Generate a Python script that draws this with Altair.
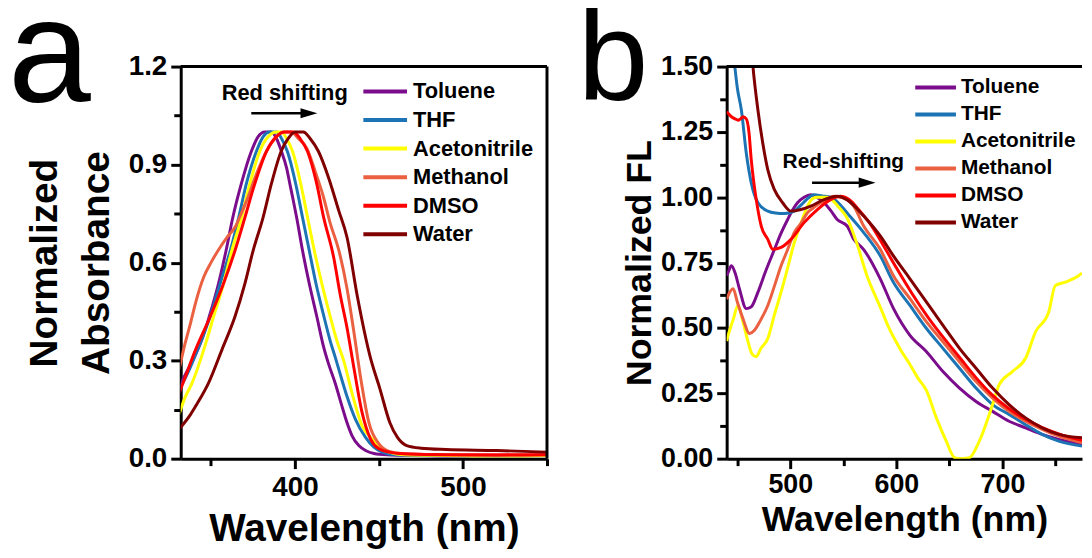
import altair as alt
import pandas as pd

FONT = "Liberation Sans"
SOLVENTS = ["Toluene", "THF", "Acetonitrile", "Methanol", "DMSO", "Water"]
COLORS = ["#7B0C8C", "#1C74B4", "#FFFF00", "#EA6040", "#FF0000", "#800000"]

# ---------------- panel a: absorbance ----------------
TOL_A_X = [331, 336, 340, 345, 349, 354.5, 359, 363, 368, 374, 378, 382, 386, 389, 392, 395, 397, 399, 401, 404.5, 408.5, 413, 417, 420, 424, 428, 431, 434, 438, 442, 447, 455, 470, 500, 530, 550]
TOL_A_Y = [0.22, 0.27, 0.31, 0.37, 0.435, 0.536, 0.637, 0.738, 0.84, 0.94, 0.985, 1.0, 1.0, 0.98, 0.94, 0.89, 0.84, 0.79, 0.738, 0.637, 0.536, 0.435, 0.343, 0.29, 0.23, 0.16, 0.11, 0.07, 0.04, 0.025, 0.016, 0.012, 0.01, 0.008, 0.008, 0.012]
THF_A_X = [331, 336, 342, 349.5, 355.5, 361.5, 366.5, 371, 377, 381, 385, 389, 392, 395.5, 400.5, 404.5, 408.5, 412.5, 417, 421, 424, 428, 431, 436, 442, 447, 452, 460, 480, 520, 550]
THF_A_Y = [0.21, 0.26, 0.333, 0.435, 0.536, 0.637, 0.738, 0.84, 0.94, 0.985, 1.0, 1.0, 0.98, 0.94, 0.84, 0.738, 0.637, 0.536, 0.44, 0.36, 0.31, 0.24, 0.19, 0.12, 0.065, 0.035, 0.02, 0.012, 0.01, 0.008, 0.01]
ACN_A_X = [331, 334, 338.8, 345.7, 351.6, 357.5, 362.4, 368.2, 373.1, 379, 384, 389, 392, 395, 398.6, 403.5, 407.5, 411.5, 416, 421, 425, 429, 434, 440, 446, 451, 456, 465, 490, 520, 550]
ACN_A_Y = [0.135, 0.18, 0.232, 0.333, 0.435, 0.536, 0.637, 0.738, 0.84, 0.94, 0.985, 1.0, 1.0, 0.98, 0.94, 0.84, 0.738, 0.637, 0.536, 0.435, 0.36, 0.30, 0.20, 0.10, 0.06, 0.035, 0.02, 0.012, 0.01, 0.008, 0.01]
MEOH_A_X = [331, 334, 337.8, 341, 345.7, 350, 355.5, 360, 364.3, 368, 371.2, 377, 383, 388, 393, 398, 402, 407, 412, 417, 421, 426, 431, 435, 439, 444, 450, 456, 465, 490, 520, 550]
MEOH_A_Y = [0.272, 0.34, 0.414, 0.48, 0.556, 0.6, 0.647, 0.68, 0.708, 0.75, 0.789, 0.87, 0.941, 0.98, 1.0, 1.0, 0.98, 0.95, 0.88, 0.8, 0.72, 0.64, 0.52, 0.39, 0.25, 0.11, 0.045, 0.022, 0.015, 0.012, 0.01, 0.012]
DMSO_A_X = [331, 334, 340.8, 349.6, 357.5, 364.3, 370.2, 376, 383, 388.8, 394, 399, 403, 407.5, 413, 417, 423, 427, 431, 435, 440, 445, 450, 456, 465, 490, 520, 550]
DMSO_A_Y = [0.2, 0.24, 0.333, 0.435, 0.536, 0.637, 0.738, 0.84, 0.94, 0.985, 1.0, 1.0, 0.98, 0.94, 0.84, 0.74, 0.617, 0.5, 0.4, 0.28, 0.14, 0.06, 0.03, 0.02, 0.015, 0.012, 0.012, 0.012]
WAT_A_X = [331, 337.8, 342, 348.6, 356.5, 364.3, 370.2, 375.1, 381, 385.9, 391.8, 396, 400, 405, 409, 414, 420, 426, 431, 437, 444.7, 450.6, 456.5, 461, 466.5, 475, 490, 520, 550]
WAT_A_Y = [0.09, 0.135, 0.17, 0.232, 0.333, 0.435, 0.536, 0.637, 0.738, 0.84, 0.941, 0.98, 1.0, 1.0, 0.98, 0.94, 0.86, 0.76, 0.677, 0.5, 0.313, 0.213, 0.11, 0.065, 0.04, 0.032, 0.028, 0.025, 0.02]

# ---------------- panel b: fluorescence ----------------
TOL_B_X = [440, 441.4, 444.5, 448, 452, 458.5, 463, 469.5, 477, 485, 491, 497.5, 502, 506.8, 513, 519.3, 525, 531.8, 538, 544.2, 553.6, 559.8, 569.2, 584.8, 597.2, 612.8, 628.4, 643.9, 659.5, 675.1, 690.7, 706.2, 721.8, 737.4, 753, 775]
TOL_B_Y = [0.70, 0.713, 0.738, 0.71, 0.65, 0.574, 0.58, 0.637, 0.72, 0.8, 0.86, 0.915, 0.95, 0.979, 1.0, 1.01, 1.0, 0.979, 0.95, 0.915, 0.89, 0.84, 0.80, 0.688, 0.575, 0.472, 0.409, 0.333, 0.27, 0.219, 0.181, 0.143, 0.118, 0.093, 0.074, 0.055]
THF_B_X = [443, 447.7, 450, 453.9, 458.5, 463.2, 469.5, 478.8, 486, 494.4, 503.7, 510, 515, 522.4, 530, 538, 545, 553.6, 569.2, 584.8, 597.2, 612.8, 628.4, 643.9, 659.5, 675.1, 690.7, 706.2, 721.8, 737.4, 753, 775]
THF_B_Y = [1.7, 1.5, 1.42, 1.333, 1.169, 1.055, 0.979, 0.947, 0.94, 0.938, 0.947, 0.97, 0.99, 1.01, 1.005, 1.0, 0.98, 0.94, 0.865, 0.776, 0.675, 0.586, 0.498, 0.422, 0.346, 0.27, 0.207, 0.169, 0.13, 0.093, 0.067, 0.048]
ACN_B_X = [440, 441.4, 446, 450.8, 455, 460, 464, 468, 472, 478.8, 485, 491.3, 497.5, 503.8, 510, 516.2, 521, 525.6, 535, 545, 553.6, 563, 572.3, 584.8, 593, 603.5, 612.8, 620, 628.4, 637.7, 647, 654.8, 659.5, 668.8, 678.2, 690.7, 696.9, 709.3, 721.8, 731.2, 743.6, 749.8, 759.2, 771.7, 775]
ACN_B_Y = [0.45, 0.472, 0.53, 0.586, 0.53, 0.45, 0.40, 0.39, 0.42, 0.46, 0.55, 0.637, 0.73, 0.827, 0.9, 0.966, 0.995, 1.0, 1.0, 0.965, 0.92, 0.82, 0.70, 0.58, 0.5, 0.42, 0.36, 0.31, 0.26, 0.156, 0.067, 0.004, 0.0, 0.004, 0.067, 0.207, 0.283, 0.333, 0.384, 0.485, 0.561, 0.662, 0.675, 0.7, 0.71]
MEOH_B_X = [440, 441.4, 446.1, 450, 455, 461.7, 466, 472, 478.8, 485, 491.3, 497.5, 503.7, 510, 516.2, 522, 528.6, 535, 541.1, 547, 553.6, 559.8, 569.2, 584.8, 597.2, 612.8, 628.4, 643.9, 659.5, 675.1, 690.7, 706.2, 721.8, 737.4, 753, 775]
MEOH_B_Y = [0.61, 0.624, 0.65, 0.6, 0.54, 0.479, 0.49, 0.53, 0.586, 0.66, 0.738, 0.8, 0.865, 0.9, 0.941, 0.96, 0.979, 0.99, 1.004, 1.0, 0.991, 0.966, 0.89, 0.801, 0.7, 0.612, 0.523, 0.447, 0.371, 0.295, 0.232, 0.181, 0.143, 0.112, 0.086, 0.061]
DMSO_B_X = [440, 444.5, 448, 450.8, 453, 455.4, 458.5, 461, 463.2, 465.5, 467.9, 472.6, 478.8, 483.5, 491.3, 500.6, 513, 525.5, 538, 547.3, 556, 565, 575, 590, 600, 615, 630, 645, 660, 675, 690, 705, 720, 737, 753, 775]
DMSO_B_Y = [1.327, 1.308, 1.3, 1.295, 1.3, 1.308, 1.3, 1.25, 1.143, 1.06, 0.991, 0.89, 0.839, 0.801, 0.808, 0.839, 0.903, 0.953, 0.991, 1.004, 0.99, 0.95, 0.9, 0.8, 0.73, 0.63, 0.54, 0.46, 0.385, 0.31, 0.245, 0.195, 0.155, 0.12, 0.095, 0.07]
WAT_B_X = [461, 464.8, 469.5, 474.1, 478.8, 485, 492.8, 500.6, 510, 519.3, 531.8, 544.2, 553.6, 569.2, 584.8, 597.2, 612.8, 628.4, 643.9, 659.5, 675.1, 690.7, 706.2, 721.8, 737.4, 753, 775]
WAT_B_Y = [1.7, 1.5, 1.333, 1.206, 1.105, 1.029, 0.979, 0.947, 0.953, 0.966, 0.991, 1.004, 0.99, 0.928, 0.852, 0.776, 0.688, 0.599, 0.51, 0.422, 0.346, 0.27, 0.207, 0.156, 0.118, 0.093, 0.08]

XA_TICKS = [350, 400, 450, 500, 550]
YA_TICKS = [0, 0.15, 0.3, 0.45, 0.6, 0.75, 0.9, 1.05, 1.2]
XB_TICKS = [450, 500, 550, 600, 650, 700, 750]
YB_TICKS = [0, 0.125, 0.25, 0.375, 0.5, 0.625, 0.75, 0.875, 1.0, 1.125, 1.25, 1.375, 1.5]


def long_df(xs, ys):
    rows = []
    for name, xx, yy in zip(SOLVENTS, xs, ys):
        for a, b in zip(xx, yy):
            rows.append({"solvent": name, "wl": a, "val": b})
    return pd.DataFrame(rows)


df_a = long_df([TOL_A_X, THF_A_X, ACN_A_X, MEOH_A_X, DMSO_A_X, WAT_A_X],
               [TOL_A_Y, THF_A_Y, ACN_A_Y, MEOH_A_Y, DMSO_A_Y, WAT_A_Y])
df_b = long_df([TOL_B_X, THF_B_X, ACN_B_X, MEOH_B_X, DMSO_B_X, WAT_B_X],
               [TOL_B_Y, THF_B_Y, ACN_B_Y, MEOH_B_Y, DMSO_B_Y, WAT_B_Y])

color_scale = alt.Scale(domain=SOLVENTS, range=COLORS)
one = pd.DataFrame({"d": [0]})


def build_panel(df, W, H, xdom, ydom, xticks, xmajor, yticks, ymajor, ylabel_expr,
                ytitle, label_fs, title_fs, ytitle_pad, ytitle_lh, xlabel_pad, xtitle_pad,
                arrow, note, letter, legend, full_box):
    xaxis = alt.Axis(values=xticks, format="d",
                     labelExpr=f"({xmajor}) ? datum.label : ''",
                     tickSize={"condition": {"test": xmajor, "value": 10}, "value": 7},
                     labelFont=FONT, labelFontSize=label_fs, labelFontWeight="bold",
                     labelColor="black", labelPadding=xlabel_pad, labelFlush=False,
                     labelOverlap=False,
                     domainColor="black", domainWidth=3, tickColor="black", tickWidth=3,
                     titleFont=FONT, titleFontSize=title_fs, titleFontWeight="bold",
                     titleColor="black", titlePadding=xtitle_pad, grid=False)
    yaxis = alt.Axis(values=yticks,
                     labelExpr=f"({ymajor}) ? {ylabel_expr} : ''",
                     tickSize={"condition": {"test": ymajor, "value": 10}, "value": 7},
                     labelFont=FONT, labelFontSize=label_fs, labelFontWeight="bold",
                     labelColor="black", labelPadding=4, labelFlush=False, labelOverlap=False,
                     domainColor="black", domainWidth=3, tickColor="black", tickWidth=3,
                     titleFont=FONT, titleFontSize=title_fs, titleFontWeight="bold",
                     titleColor="black", titlePadding=ytitle_pad, titleLineHeight=ytitle_lh,
                     grid=False)
    xs = alt.Scale(domain=xdom, nice=False, zero=False)
    ys = alt.Scale(domain=ydom, nice=False, zero=False)

    def X(f):
        return alt.X(f, scale=xs, axis=xaxis, title="Wavelength (nm)")

    def Y(f):
        return alt.Y(f, scale=ys, axis=yaxis, title=ytitle)

    lines = alt.Chart(df).mark_line(strokeWidth=3, clip=True, interpolate="monotone").encode(
        x=X("wl:Q"), y=Y("val:Q"),
        color=alt.Color("solvent:N", scale=color_scale, legend=None),
    )
    top = alt.Chart(one).mark_rule(color="black", strokeWidth=3).encode(
        x=alt.value(0), x2=alt.value(W), y=alt.value(0))
    layers = [lines, top]
    if full_box:
        layers.append(alt.Chart(one).mark_rule(color="black", strokeWidth=3).encode(
            x=alt.value(W), y=alt.value(0), y2=alt.value(H)))

    ax1, ax2, ay, fs_note = arrow
    arr = pd.DataFrame({"x1": [ax1], "x2": [ax2], "y": [ay]})
    layers.append(alt.Chart(arr).mark_rule(color="black", strokeWidth=2.5).encode(
        x=X("x1:Q"), x2="x2:Q", y=Y("y:Q")))
    layers.append(alt.Chart(arr).mark_point(shape="M-1,-0.6L1,0L-1,0.6Z", filled=True,
                                            color="black", size=289, opacity=1).encode(
        x=X("x2:Q"), y=Y("y:Q")))
    ntext, nx, ny = note
    layers.append(alt.Chart(pd.DataFrame({"x": [nx], "y": [ny], "t": [ntext]})).mark_text(
        align="center", baseline="alphabetic", font=FONT, fontSize=fs_note,
        fontWeight="bold", color="black").encode(x=X("x:Q"), y=Y("y:Q"), text="t:N"))

    ltext, lx, ly, lfs = letter
    layers.append(alt.Chart(pd.DataFrame({"t": [ltext]})).mark_text(
        align="left", baseline="alphabetic", font=FONT, fontSize=lfs,
        fontWeight="normal", color="black").encode(
        x=alt.value(lx), y=alt.value(ly), text="t:N"))

    inner = alt.layer(*layers)

    gx1, gx2, gtx, gy0, gy1, gfs = legend
    leg_df = pd.DataFrame({"solvent": SOLVENTS, "idx": list(range(len(SOLVENTS)))})
    ly_enc = alt.Y("idx:Q", scale=alt.Scale(domain=[0, len(SOLVENTS) - 1], range=[gy0, gy1]),
                   axis=None)
    leg_rule = alt.Chart(leg_df).mark_rule(strokeWidth=4).encode(
        x=alt.value(gx1), x2=alt.value(gx2), y=ly_enc,
        color=alt.Color("solvent:N", scale=color_scale, legend=None))
    leg_text = alt.Chart(leg_df).mark_text(
        align="left", baseline="middle", font=FONT, fontSize=gfs, fontWeight="bold",
        color="black").encode(x=alt.value(gtx), y=ly_enc, text="solvent:N")

    return alt.layer(inner, leg_rule, leg_text).resolve_scale(y="independent").properties(
        width=W, height=H)


panel_a = build_panel(
    df_a, 369, 395, [332, 550], [0, 1.2], XA_TICKS, "datum.value % 100 === 0",
    YA_TICKS, "round(datum.value * 100) % 30 === 0", "format(datum.value, '.1f')",
    ["Normalized", "Absorbance"], 28, 39, 12, 52, 5, 8,
    (374.0, 408.3, 1.057, 22), ("Red shifting", 393.9, 1.097),
    ("a", -174, 36, 150), (184, 228, 234, 25, 169, 22), True)

panel_b = build_panel(
    df_b, 358, 395, [440, 775], [0, 1.5], XB_TICKS, "datum.value % 100 === 0",
    YB_TICKS, "round(datum.value * 1000) % 250 === 0", "format(datum.value, '.2f')",
    "Normalized FL", 27, 36, 2, 40, 3, 5,
    (520.5, 572.4, 1.056, 21), ("Red-shifting", 550.0, 1.113),
    ("b", -150, 34, 128), (190, 231, 236, 21, 157, 21), False)

chart = alt.hconcat(panel_a, panel_b, spacing=29).properties(
    padding={"left": 0, "top": -27, "right": 0, "bottom": 0}
).configure_view(stroke=None)

chart.save("out.html", embed_options={"renderer": "svg", "actions": False})
